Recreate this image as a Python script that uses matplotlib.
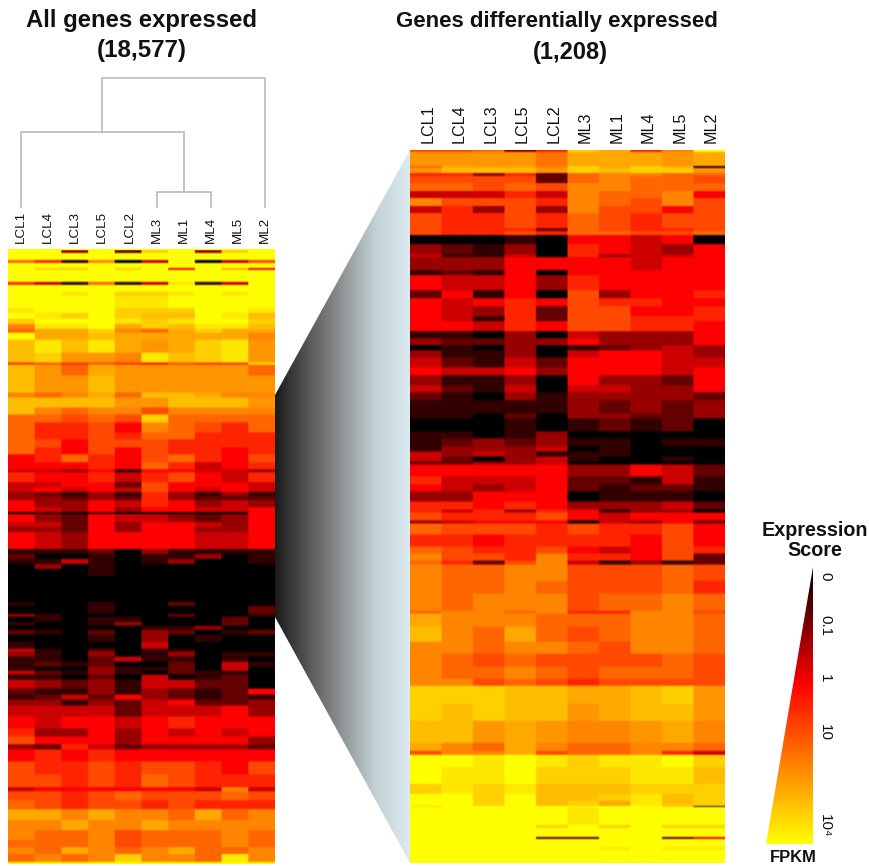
import numpy as np
import matplotlib
matplotlib.use("Agg")
import matplotlib.pyplot as plt
from matplotlib.colors import LinearSegmentedColormap
from matplotlib.patches import Polygon

plt.rcParams['font.family'] = ['Liberation Sans', 'DejaVu Sans']

LEFT_SAMPLES = ["LCL1", "LCL4", "LCL3", "LCL5", "LCL2", "ML3", "ML1", "ML4", "ML5", "ML2"]
RIGHT_SAMPLES = ["LCL1", "LCL4", "LCL3", "LCL5", "LCL2", "ML3", "ML1", "ML4", "ML5", "ML2"]

# dendrogram merge heights: ML3+ML4, then LCL1 with those, then ML2 with the rest
MERGE_HEIGHTS = [15, 75, 128.5]

LEGEND_TICKS = ["0", "0.1", "1", "10", "10\u2074"]
LEGEND_TICK_SCORES = [11.6, 9.45, 7.2, 4.85, 0.8]

# every row: bins of genes in the band, then a score 0 (black) to 12 (yellow) per sample
LEFT_BANDS = [
    [1, 12, 12, 12, 12, 12, 12, 12, 12, 12, 12],
    [3, 12, 12, 3, 12, 2, 11, 12, 3, 11, 12],
    [7, 12, 12, 12, 12, 12, 12, 12, 12, 12, 12],
    [3, 8, 6, 1, 9, 0, 4, 12, 0, 4, 7],
    [5, 12, 12, 12, 12, 12, 12, 12, 12, 12, 12],
    [2, 12, 11, 11, 12, 11, 12, 5, 12, 10, 5],
    [12, 12, 12, 12, 12, 12, 12, 12, 12, 12, 12],
    [3, 6, 4, 1, 8, 1, 4, 11.5, 1, 4, 12],
    [7, 12, 12, 12, 12, 12, 12, 12, 12, 12, 12],
    [4, 12, 12, 11.5, 12, 11, 11, 11.5, 12, 11.5, 12],
    [12, 12, 12, 12, 12, 11.5, 11.5, 12, 12, 12, 12],
    [5, 11.5, 12, 12, 12, 11, 11, 11, 12, 12, 11.5],
    [6, 12, 11.5, 11, 12, 11, 10.5, 10.5, 12, 11.5, 10.5],
    [5, 11, 12, 12, 12, 11.5, 11, 11.5, 12, 12, 11],
    [5, 9, 11.5, 11.5, 12, 10, 11, 10.5, 11.5, 11.5, 10.5],
    [4, 8, 10, 10, 11, 9, 8, 10, 11, 10, 10],
    [7, 12, 10, 10, 10.5, 10, 10, 10, 10, 10, 9],
    [13, 10.5, 11.5, 10.5, 11.5, 10, 9.5, 10, 11, 11.5, 9.5],
    [10, 10.5, 11, 9.5, 9.5, 9, 11.5, 10.5, 11, 11.5, 9.5],
    [2, 6, 7, 6, 7, 6, 5, 7, 6, 6, 11.5],
    [11, 10.5, 9.5, 8, 10, 9.5, 9.5, 9.5, 9.5, 9.5, 8],
    [17, 10.5, 9.5, 9.5, 10.5, 9.5, 9.5, 9.5, 9.5, 9.5, 9.5],
    [5, 9, 8, 9, 10, 8, 10.5, 10.5, 10, 9, 9],
    [10, 10.5, 10.5, 10.5, 10.5, 9.5, 9.5, 10.5, 10.5, 10.5, 9.5],
    [7, 10.5, 9, 8, 9, 9, 7, 9, 9, 9, 9],
    [8, 8, 8, 7, 8, 7, 11, 8, 8, 8, 8],
    [10, 8, 6, 6, 7, 5, 9, 8, 7, 6, 8],
    [7, 8, 6, 6, 7, 6, 8, 8, 6, 6, 6],
    [8, 8, 7, 5, 7, 7, 7, 6, 6, 6, 6],
    [7, 8, 6, 5, 7, 5, 7, 6, 6, 5, 6],
    [8, 5, 6, 8, 6, 5, 7, 8, 6, 5, 7],
    [7, 5, 5, 5, 6, 5, 8, 6, 4, 5, 6],
    [3, 4, 4, 3, 5, 1, 5, 5, 4, 4, 3],
    [10, 6, 5, 5, 6, 4, 6, 7, 5, 4, 6],
    [5, 4, 4, 5, 5, 2, 7, 5, 5, 5, 4],
    [5, 4, 5, 4, 5, 4, 7, 5, 4, 5, 4],
    [4, 3, 2, 1, 3, 1, 6, 3, 1, 3, 1],
    [4, 3, 3, 2, 3, 2, 6, 3, 2, 2, 2],
    [7, 5, 3, 3, 5, 4, 6, 5, 3, 4, 3],
    [5, 5, 4, 3, 5, 3, 5, 5, 4, 4, 5],
    [2, 0, 1, 0, 1, 0, 0, 0, 0, 0, 5],
    [8, 5, 3, 2, 5, 4, 4, 3, 2, 3, 5],
    [5, 4, 4, 2, 5, 3, 5, 5, 4, 3, 5],
    [5, 3, 3, 2, 5, 3, 5, 5, 3, 3, 5],
    [17, 5, 4, 3, 5, 5, 5, 5, 4, 4, 5],
    [5, 1, 1, 1, 2, 0, 3, 1, 1, 1, 1],
    [5, 2, 0, 0, 1, 0, 1, 1, 3, 0, 1],
    [5, 1, 1, 4, 1, 0, 1, 3, 0, 0, 1],
    [5, 0, 3, 0, 1, 0, 0, 0, 0, 0, 0],
    [7, 0, 0, 0, 1, 0, 0, 0, 0, 0, 0],
    [26, 0, 0, 0, 0, 0, 0, 0, 0, 0, 0],
    [4, 1, 0, 0, 1, 0, 0, 2, 0, 0, 0],
    [8, 0, 0, 0, 1, 0, 0, 0, 0, 0, 2],
    [3, 3, 1, 0, 0, 0, 0, 2, 0, 0, 1],
    [5, 0, 1, 0, 1, 1, 0, 0, 0, 2, 0],
    [4, 1, 0, 0, 1, 3, 0, 0, 0, 2, 0],
    [4, 0, 0, 0, 0, 0, 1, 1, 3, 0, 0],
    [5, 2, 1, 0, 2, 0, 3, 2, 0, 1, 2],
    [7, 0, 0, 0, 1, 0, 3, 0, 1, 0, 0],
    [7, 1, 0, 0, 0, 0, 4, 0, 0, 0, 0],
    [3, 4, 1, 0, 2, 0, 1, 1, 0, 0, 0],
    [5, 3, 1, 0, 3, 0, 1, 3, 0, 1, 1],
    [5, 1, 1, 0, 2, 4, 1, 1, 0, 1, 0],
    [5, 1, 2, 1, 2, 0, 0, 2, 0, 4, 1],
    [4, 1, 0, 0, 3, 1, 1, 2, 0, 4, 0],
    [4, 4, 2, 1, 3, 1, 0, 2, 1, 1, 0],
    [5, 1, 1, 0, 2, 0, 4, 0, 1, 2, 0],
    [9, 4, 3, 2, 3, 1, 4, 4, 2, 2, 0],
    [6, 2, 1, 1, 3, 1, 3, 2, 1, 2, 5],
    [5, 1, 2, 4, 2, 5, 3, 2, 1, 2, 1],
    [6, 3, 3, 1, 3, 2, 4, 5, 2, 2, 3],
    [11, 4, 4, 4, 4, 2, 4, 4, 4, 5, 3],
    [12, 5, 4, 5, 5, 4, 5, 6, 5, 5, 5],
    [8, 6, 3, 3, 5, 3, 5, 4, 5, 4, 5],
    [8, 7, 5, 5, 5, 3, 5, 5, 5, 5, 3],
    [5, 3, 2, 6, 4, 2, 3, 3, 3, 3, 2],
    [12, 5, 6, 5, 6, 5, 5, 5, 5, 5, 5],
    [13, 7, 6, 6, 7, 6, 7, 7, 6, 5, 7],
    [13, 7, 7, 6, 7, 6, 8, 7, 6, 6, 6],
    [4, 4, 5, 5, 5, 5, 5, 5, 4, 9, 4],
    [9, 7, 7, 6, 7, 8, 7, 7, 7, 8, 7],
    [9, 8, 7, 6, 7, 7, 6, 7, 6, 6, 6],
    [11, 10, 10, 9, 10, 9, 9, 8, 10, 8, 9],
    [10, 9, 9, 10, 9, 9, 10, 9, 9, 9, 9],
    [10, 9, 8, 8, 9, 7, 8, 8, 8, 9, 8],
    [7, 8, 8, 8, 9, 7, 8, 8, 8, 9, 8],
    [7, 9, 8, 10, 9, 8, 9, 10, 8, 8, 9],
    [8, 8, 9, 8, 9, 11, 9, 9, 8, 11.5, 9],
    [2, 12, 12, 12, 12, 12, 12, 12, 12, 12, 12],
]

RIGHT_BANDS = [
    [2, 7, 7, 8, 3, 6, 11, 10, 6, 9, 12],
    [14, 9.5, 9.5, 9.5, 9.5, 8.5, 10, 10, 10, 9.5, 10],
    [2, 8, 10, 10, 10, 9, 11, 10, 11, 10, 1],
    [5, 9.5, 10.5, 10.5, 10.5, 9.5, 11, 10.5, 11, 11, 9.5],
    [3, 6, 6, 3, 6, 2, 8, 9, 9, 8, 8],
    [7, 7, 7, 7, 7, 2, 8, 9, 8, 8, 7],
    [8, 8, 8, 7, 8, 7, 9, 9, 8, 8, 8],
    [7, 4, 4, 4, 6, 4, 9, 8, 8, 9, 5],
    [8, 9, 7, 7, 7, 6, 9, 8, 7, 9, 7],
    [7, 4, 6, 3, 7, 3, 9, 7, 7, 5, 7],
    [15, 7, 6, 6, 7, 6, 8, 7, 6, 7, 7],
    [3, 7, 6, 6, 6, 2, 8, 7, 6, 6, 7],
    [4, 7, 6, 6, 7, 6, 8, 8, 7, 7, 8],
    [9, 0, 0, 0, 1, 0, 5, 5, 4, 5, 0],
    [10, 3, 2, 1, 3, 0, 6, 5, 4, 3, 5],
    [3, 4, 1, 1, 4, 0, 6, 3, 4, 4, 5],
    [13, 3, 3, 3, 5, 5, 5, 5, 4, 5, 5],
    [5, 1, 2, 1, 5, 0, 5, 5, 5, 5, 5],
    [15, 5, 4, 4, 5, 3, 6, 5, 5, 5, 5],
    [8, 2, 5, 1, 5, 0, 7, 3, 5, 5, 6],
    [8, 5, 4, 5, 6, 5, 7, 6, 6, 5, 5],
    [10, 5, 4, 3, 6, 2, 7, 7, 5, 5, 6],
    [5, 5, 4, 1, 6, 2, 7, 7, 6, 6, 6],
    [10, 5, 5, 4, 6, 5, 7, 7, 6, 6, 5],
    [7, 1, 1, 0, 3, 0, 4, 3, 3, 3, 5],
    [7, 3, 2, 2, 3, 3, 5, 3, 3, 3, 5],
    [5, 0, 1, 0, 3, 0, 1, 2, 3, 4, 3],
    [7, 3, 1, 1, 3, 0, 4, 5, 5, 4, 3],
    [10, 4, 2, 1, 4, 2, 5, 5, 5, 4, 4],
    [8, 5, 4, 4, 5, 3, 5, 5, 5, 4, 5],
    [10, 3, 1, 1, 3, 0, 5, 3, 3, 2, 5],
    [7, 4, 2, 1, 4, 0, 4, 4, 3, 3, 5],
    [8, 2, 1, 0, 3, 1, 3, 3, 3, 3, 2],
    [13, 1, 1, 1, 1, 1, 3, 2, 3, 2, 3],
    [5, 1, 1, 0, 2, 0, 3, 3, 2, 2, 3],
    [13, 0, 0, 0, 1, 0, 1, 2, 1, 2, 0],
    [7, 1, 1, 0, 1, 3, 0, 0, 0, 0, 0],
    [8, 1, 2, 3, 2, 3, 1, 1, 0, 1, 1],
    [5, 1, 3, 3, 3, 4, 0, 1, 0, 0, 0],
    [5, 4, 3, 4, 3, 1, 1, 1, 0, 0, 0],
    [5, 4, 2, 0, 3, 4, 1, 0, 0, 1, 0],
    [3, 2, 2, 3, 3, 4, 0, 0, 0, 0, 0],
    [12, 5, 5, 5, 5, 5, 3, 3, 5, 4, 2],
    [8, 6, 4, 4, 4, 5, 2, 2, 1, 4, 1],
    [7, 5, 4, 3, 4, 5, 2, 1, 2, 2, 1],
    [10, 3, 3, 5, 5, 5, 0, 1, 1, 1, 0],
    [8, 6, 6, 5, 6, 5, 3, 3, 3, 4, 2],
    [3, 6, 4, 6, 3, 6, 5, 1, 3, 3, 0],
    [8, 7, 6, 6, 6, 7, 5, 4, 5, 5, 5],
    [3, 3, 4, 5, 5, 5, 0, 4, 3, 5, 2],
    [11, 8, 7, 7, 7, 6, 7, 6, 6, 7, 5],
    [12, 6, 6, 5, 6, 6, 6, 6, 5, 7, 5],
    [7, 8, 7, 6, 6, 7, 5, 4, 5, 7, 6],
    [7, 9, 7, 7, 6, 9, 6, 6, 5, 7, 2],
    [4, 8, 6, 2, 7, 9, 4, 1, 3, 1, 2],
    [16, 9, 8, 8, 9, 9, 7, 7, 7, 8, 7],
    [13, 9, 8, 8, 9, 8, 7, 7, 7, 8, 6],
    [17, 9, 8, 9, 9, 9, 7, 8, 8, 9, 8],
    [3, 8, 9, 9, 8, 9, 6, 6, 9, 9, 7],
    [13, 10, 9, 9, 9, 8, 8, 8, 9, 9, 8],
    [15, 10.5, 9, 8, 10, 8, 7, 8, 9, 9, 8],
    [12, 9, 9, 8, 9, 9, 8, 7, 9, 9, 8],
    [13, 9, 8, 7, 8, 7, 7, 7, 7, 8, 7],
    [12, 9, 8, 8, 9, 8, 7, 8, 8, 8, 7],
    [7, 9, 9, 7, 8, 7, 6, 7, 7, 7, 7],
    [18, 11, 11, 11, 10.5, 10.5, 10, 10, 10.5, 11, 9.5],
    [17, 11, 10.5, 11, 10.5, 10.5, 9.5, 10, 10.5, 10.5, 9.5],
    [22, 10.5, 10.5, 9.5, 10, 9.5, 9, 9, 9.5, 10, 9],
    [8, 10, 9, 8, 10, 9, 8, 8, 9, 9, 8],
    [4, 7, 9, 9, 10, 7, 8, 8, 9, 6, 4],
    [12, 12, 12, 11.5, 12, 11.5, 11, 11.5, 11.5, 12, 11],
    [17, 12, 11.5, 11.5, 12, 11, 11, 11, 11.5, 11.5, 10.5],
    [10, 11, 11.5, 11, 11.5, 10.5, 10.5, 10.5, 11, 11, 11],
    [7, 12, 12, 11, 12, 10.5, 10.5, 11, 11.5, 10.5, 11],
    [5, 12, 12, 11, 12, 10.5, 11, 10, 11.5, 10.5, 11],
    [1, 11, 12, 12, 12, 12, 12, 12, 12, 11, 1],
    [18, 12, 12, 12, 12, 12, 11.5, 12, 12, 12, 12],
    [3, 12, 12, 12, 12, 11, 12, 11, 12, 11, 11],
    [9, 12, 12, 12, 12, 12, 12, 12, 12, 12, 12],
    [2, 12, 12, 12, 12, 2, 2, 12, 12, 2, 5],
    [8, 12, 12, 12, 12, 12, 12, 12, 12, 12, 12],
    [3, 12, 12, 12, 12, 12, 12, 11.5, 12, 11.5, 11.5],
    [13, 12, 12, 12, 12, 12, 12, 12, 12, 12, 12],
]

W, H = 870, 866
cmap = LinearSegmentedColormap.from_list("expr", [
    (0, "#000000"), (5 / 12, "#ff0000"), (7 / 12, "#ff4800"), (9 / 12, "#ff8400"),
    (10 / 12, "#ffa800"), (11 / 12, "#ffd000"), (1, "#ffff00")])


def px_axes(fig, left, top, right, bottom):
    """Axes placed by reference pixel box"""
    return fig.add_axes([left / W, 1 - bottom / H, (right - left) / W, (bottom - top) / H])


def draw_heatmap(fig, bands, box):
    bands = np.array(bands, dtype=float)
    img = np.repeat(bands[:, 1:], bands[:, 0].astype(int), axis=0)
    img = np.repeat(img, 20, axis=1)
    rgba = cmap(img / 12)
    # the source figure is soft, so thin dark lines blend with their neighbours
    soft = rgba.copy()
    soft[1:-1] = 0.25 * rgba[:-2] + 0.5 * rgba[1:-1] + 0.25 * rgba[2:]
    ax = px_axes(fig, *box)
    ax.imshow(soft, aspect="auto", interpolation="bilinear")
    ax.axis("off")
    return ax


def draw_gradient(ax, colors, poly_pts, box, vertical=False):
    """Gradient image clipped to a polygon, both in overlay pixel coordinates"""
    grad_cmap = LinearSegmentedColormap.from_list("g", colors)
    grad = np.linspace(0, 1, 256).reshape(-1, 1) if vertical else np.linspace(0, 1, 256).reshape(1, -1)
    im = ax.imshow(grad, cmap=grad_cmap, extent=box, aspect="auto", zorder=1)
    poly = Polygon(poly_pts, closed=True, transform=ax.transData, fc="none", ec="none")
    ax.add_patch(poly)
    im.set_clip_path(poly)


fig = plt.figure(figsize=(W / 100, H / 100), dpi=100)

# overlay for wedge, titles and legend, in reference pixels
over = fig.add_axes([0, 0, 1, 1])
over.set_xlim(0, W)
over.set_ylim(H, 0)
over.axis("off")

draw_gradient(over, [(0, "#1a1a1a"), (0.35, "#707070"), (0.75, "#c4d2d6"), (1, "#dcebf1")],
              [(275, 395), (410, 150), (410, 863), (275, 617)], (275, 410, 863, 150))

draw_heatmap(fig, LEFT_BANDS, (8, 249, 275, 864))
draw_heatmap(fig, RIGHT_BANDS, (410, 150, 725, 863))

# dendrogram over the left heatmap
dend = px_axes(fig, 7.5, 78, 278.5, 207)
dend.set_xlim(0, 10)
dend.set_ylim(0, MERGE_HEIGHTS[2])
dend.axis("off")
leaf = {name: i + 0.5 for i, name in enumerate(LEFT_SAMPLES)}
h1, h2, h3 = MERGE_HEIGHTS
node_a = (leaf["ML3"] + leaf["ML4"]) / 2
node_b = (leaf["LCL1"] + node_a) / 2
line_kw = dict(color="#b4b4b4", lw=1.1, clip_on=False, solid_joinstyle="miter")
dend.plot([leaf["ML3"], leaf["ML3"], leaf["ML4"], leaf["ML4"]], [0, h1, h1, 0], **line_kw)
dend.plot([leaf["LCL1"], leaf["LCL1"], node_a, node_a], [0, h2, h2, h1], **line_kw)
dend.plot([node_b, node_b, leaf["ML2"], leaf["ML2"]], [h2, h3, h3, 0], **line_kw)

for i, name in enumerate(LEFT_SAMPLES):
    over.text(21 + 27.1 * i, 243, name, rotation=90, ha="center", va="bottom", fontsize=9.6, color="#111111")
for i, name in enumerate(RIGHT_SAMPLES):
    over.text(428 + 31.5 * i, 143, name, rotation=90, ha="center", va="bottom", fontsize=11.6, color="#111111")

title_kw = dict(ha="center", va="center", fontweight="bold", color="#111111")
over.text(142, 21, "All genes expressed", fontsize=17.2, **title_kw)
over.text(142, 51, "(18,577)", fontsize=17.4, **title_kw)
over.text(557, 22, "Genes differentially expressed", fontsize=16, **title_kw)
over.text(570, 52, "(1,208)", fontsize=17, **title_kw)

# colour key: score 12 sits at the bottom of the triangle
draw_gradient(over, [(0, "#000000"), (0.42, "#ff0000"), (1, "#ffff00")],
              [(813, 567), (813, 844), (766, 844)], (766, 813, 844, 567), vertical=True)
key_top, key_bottom = 567, 844
for lab, s in zip(LEGEND_TICKS, LEGEND_TICK_SCORES):
    key_y = key_top + (key_bottom - key_top) * (12 - s) / 12
    over.text(825, key_y, lab, rotation=-90, ha="center", va="center", fontsize=11, color="#111111")

over.text(815, 531, "Expression", ha="center", va="center", fontsize=14.2, fontweight="bold", color="#111111")
over.text(815, 551, "Score", ha="center", va="center", fontsize=14.2, fontweight="bold", color="#111111")
over.text(793, 858, "FPKM", ha="center", va="center", fontsize=11.9, fontweight="bold", color="#111111")

over.set_xlim(0, W)
over.set_ylim(H, 0)
fig.savefig("out.png", dpi=100)
